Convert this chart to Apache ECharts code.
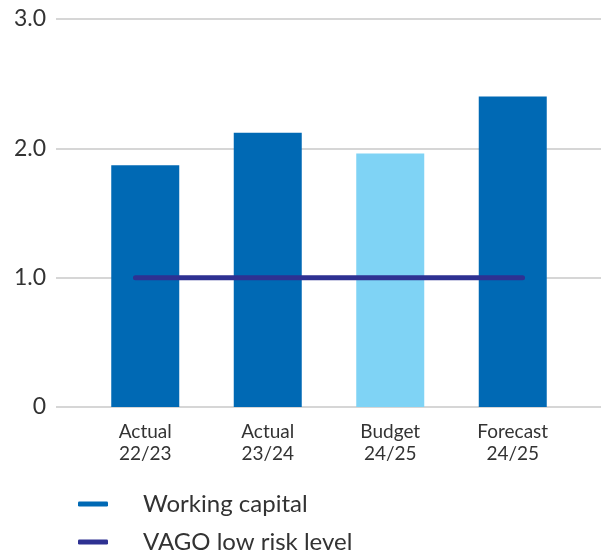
<!DOCTYPE html>
<html lang="en">
  <head>
    <meta charset="UTF-8" />
    <title>Working capital ratio</title>
    <style>
      * {
        margin: 0;
        padding: 0;
      }
      #main {
        width: 603px;
        height: 556px;
      }
    </style>
  </head>
  <body>
    <div id="main"></div>
    <script src="https://cdn.jsdelivr.net/npm/echarts@6/dist/echarts.min.js"></script>
    <script>
      // categories along the x axis
      var categories = ["Actual\n22/23", "Actual\n23/24", "Budget\n24/25", "Forecast\n24/25"];
      // working capital ratio per period
      var workingCapital = [1.87, 2.12, 1.96, 2.4];
      // VAGO low risk threshold
      var riskLevel = [1, 1, 1, 1];
      // y axis ticks
      var yTicks = [0, 1, 2, 3];

      var font = "Lato";
      // how far the risk line runs past the outer bar centres (in categories)
      var overhang = 0.08;
      var myChart = echarts.init(document.getElementById("main"));

      // risk line points on a hidden value axis, ends pushed out a little
      var riskPoints = riskLevel.map(function (v, i) {
        var x = i;
        if (i === 0) x -= overhang;
        if (i === riskLevel.length - 1) x += overhang;
        return [x, v];
      });

      function legendFor(name, color, top) {
        return {
          orient: "vertical",
          left: 73,
          top: top,
          itemWidth: 30,
          itemHeight: 5,
          textStyle: {
            fontFamily: font,
            fontSize: 24,
            color: "#333",
            padding: [0, 0, 0, 30],
          },
          data: [{ name: name, icon: "roundRect", itemStyle: { color: color } }],
        };
      }

      var option = {
        animation: false,
        textStyle: { fontFamily: font },
        grid: [
          // grid 0 only carries the gridlines + y labels
          { left: 56, right: 2, top: 19, bottom: 149 },
          // grid 1 holds the bars
          { left: 84, right: 29, top: 19, bottom: 149 },
        ],
        legend: [
          legendFor("Working capital", "#0069B4", 487),
          legendFor("VAGO low risk level", "#2E3192", 525),
        ],
        xAxis: [
          { type: "category", gridIndex: 0, data: categories, show: false },
          {
            type: "category",
            gridIndex: 1,
            data: categories,
            axisLine: { show: false },
            axisTick: { show: false },
            axisLabel: {
              fontFamily: font,
              fontSize: 19,
              lineHeight: 22,
              color: "#333",
              margin: 14,
            },
          },
          // hidden value axis matching the category bands, for the risk line
          {
            type: "value",
            gridIndex: 1,
            min: -0.5,
            max: categories.length - 0.5,
            show: false,
            splitLine: { show: false },
          },
        ],
        yAxis: [
          {
            type: "value",
            gridIndex: 0,
            min: yTicks[0],
            max: yTicks[yTicks.length - 1],
            interval: 1,
            axisLine: { show: false },
            axisTick: { show: false },
            axisLabel: {
              fontFamily: font,
              fontSize: 23,
              color: "#333",
              margin: 10,
              formatter: function (v) {
                return v === 0 ? "0" : v.toFixed(1);
              },
            },
            splitLine: { lineStyle: { color: "#d6d6d6", width: 2 } },
          },
          {
            type: "value",
            gridIndex: 1,
            min: yTicks[0],
            max: yTicks[yTicks.length - 1],
            interval: 1,
            show: false,
            splitLine: { show: false },
          },
        ],
        series: [
          {
            name: "Working capital",
            type: "bar",
            xAxisIndex: 1,
            yAxisIndex: 1,
            barWidth: 68,
            data: workingCapital.map(function (v, i) {
              return {
                value: v,
                itemStyle: { color: i === 2 ? "#7FD3F5" : "#0069B4" },
              };
            }),
          },
          {
            name: "VAGO low risk level",
            type: "line",
            xAxisIndex: 2,
            yAxisIndex: 1,
            symbol: "none",
            lineStyle: { color: "#2E3192", width: 5, cap: "round" },
            data: riskPoints,
          },
        ],
      };

      myChart.setOption(option);
    </script>
  </body>
</html>
